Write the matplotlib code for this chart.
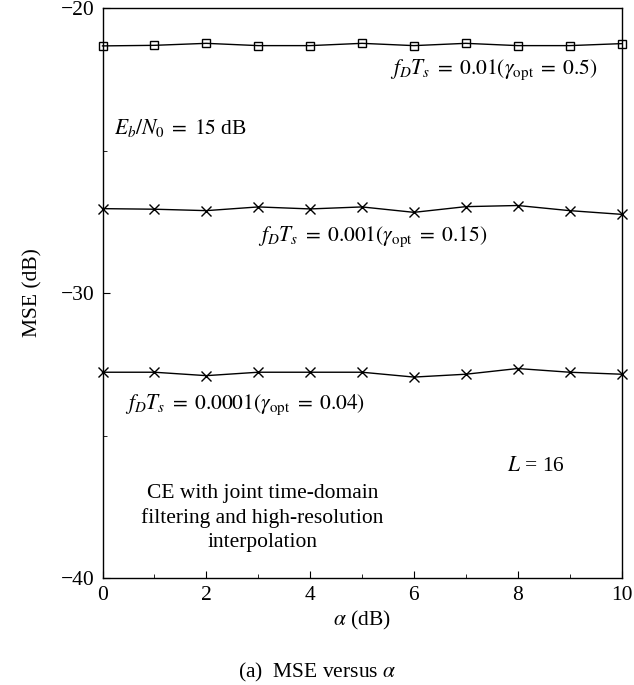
import numpy as np
import matplotlib.pyplot as plt
from matplotlib.ticker import MultipleLocator

plt.rcParams['font.family'] = ['Liberation Serif', 'DejaVu Serif']
plt.rcParams['mathtext.fontset'] = 'stix'

# data
alpha = [0, 1, 2, 3, 4, 5, 6, 7, 8, 9, 10]
mse_001 = [-21.33, -21.31, -21.24, -21.32, -21.32, -21.24, -21.32, -21.24, -21.32, -21.32, -21.25]
mse_0001 = [-27.04, -27.06, -27.11, -26.98, -27.05, -26.98, -27.17, -26.97, -26.93, -27.11, -27.24]
mse_00001 = [-32.78, -32.78, -32.90, -32.78, -32.78, -32.78, -32.95, -32.85, -32.65, -32.78, -32.85]

W, H = 634, 685
fig = plt.figure(figsize=(W / 100, H / 100), dpi=100)
ax = fig.add_axes([102.5 / W, 1 - 578 / H, 519 / W, 570 / H])

ax.plot(alpha, mse_001, color='black', lw=1.0, marker='s', ms=6,
        mfc='none', mec='black', mew=1.0, clip_on=False)
ax.plot(alpha, mse_0001, color='black', lw=1.0, marker='x', ms=6.5, mew=1.0, clip_on=False)
ax.plot(alpha, mse_00001, color='black', lw=1.0, marker='x', ms=6.5, mew=1.0, clip_on=False)

ax.set_xlim(0, 10)
ax.set_ylim(-40, -20)
ax.xaxis.set_major_locator(MultipleLocator(2))
ax.xaxis.set_minor_locator(MultipleLocator(1))
ax.yaxis.set_major_locator(MultipleLocator(10))
ax.yaxis.set_minor_locator(MultipleLocator(5))
ax.tick_params(which='both', direction='in', labelsize=15.5, pad=6)
ax.tick_params(which='major', length=5)
ax.tick_params(which='minor', length=3)
for s in ax.spines.values():
    s.set_linewidth(1.0)

ax.set_xlabel(r'$\alpha$ (dB)', fontsize=15.5)
ax.xaxis.set_label_coords(0.5, 1 - (620 - 8) / 570, transform=ax.transAxes)
ax.xaxis.label.set_va('center')
ax.set_ylabel('MSE (dB)', fontsize=15.5)
ax.yaxis.set_label_coords(-(102.5 - 33) / 519, 0.5)
ax.yaxis.label.set_va('center')

fs = 15.5
ax.text(5.54, -22.18, r'$f_DT_s\;=\;0.01(\gamma_{\rm opt}\;=\;0.5)$', fontsize=fs, va='center')
ax.text(0.22, -24.2, r'$E_b/N_0\;=\;15$ dB', fontsize=fs, va='center')
ax.text(3.0, -28.03, r'$f_DT_s\;=\;0.001(\gamma_{\rm opt}\;=\;0.15)$', fontsize=fs, va='center')
ax.text(0.43, -33.93, r'$f_DT_s\;=\;0.0001(\gamma_{\rm opt}\;=\;0.04)$', fontsize=fs, va='center')
ax.text(7.79, -36.1, r'$L$ = 16', fontsize=fs, va='center')
ax.text(3.08, -37.89, 'CE with joint time-domain\nfiltering and high-resolution\ninterpolation',
        fontsize=fs, ha='center', va='center', linespacing=1.33)

fig.text(0.5, 1 - 672 / H, r'(a)  MSE versus $\alpha$', fontsize=15.5, ha='center', va='center')

fig.savefig('out.png', dpi=100)
